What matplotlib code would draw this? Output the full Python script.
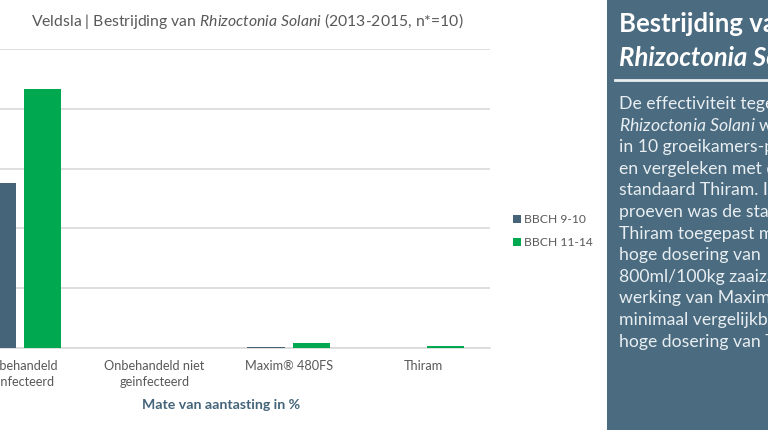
import matplotlib
matplotlib.use('Agg')
import matplotlib.pyplot as plt
from matplotlib.patches import Rectangle
import numpy as np

plt.rcParams['font.family'] = ['Lato', 'DejaVu Sans']
plt.rcParams['mathtext.fontset'] = 'custom'
plt.rcParams['mathtext.rm'] = 'Lato'
plt.rcParams['mathtext.it'] = 'Lato:italic'

# Data (y axis labels are outside the crop, 0-50 assumed)
categories = ['Onbehandeld\ngeinfecteerd', 'Onbehandeld niet\ngeinfecteerd',
              'Maxim® 480FS', 'Thiram']
bbch_9_10 = [27.6, 0.0, 0.2, 0.0]
bbch_11_14 = [43.3, 0.0, 0.8, 0.3]
y_ticks = [0, 10, 20, 30, 40, 50]
series_names = ['BBCH 9-10', 'BBCH 11-14']

panel_head = ['Bestrijding van', 'Rhizoctonia Solani']
panel_body = ['De effectiviteit tegen',
              r'$\mathit{Rhizoctonia\ Solani}$ werd',
              'in 10 groeikamers-proeven',
              'en vergeleken met de',
              'standaard Thiram. In de',
              'proeven was de standaard',
              'Thiram toegepast met een',
              'hoge dosering van',
              '800ml/100kg zaaizaad. De',
              'werking van Maxim was',
              'minimaal vergelijkbaar met de',
              'hoge dosering van Thiram.']

W, H = 768, 432
dark = '#45647a'
green = '#00a84f'
gray = '#595959'
grid = '#d9d9d9'
panel = '#4a6b80'

fig = plt.figure(figsize=(W / 100, H / 100), dpi=100)
ax = fig.add_axes([-47 / W, 1 - 348 / H, 537 / W, 299 / H])

x = np.arange(len(categories))
bw = 0.277
off = bw / 2 + 0.03
ax.bar(x - off, bbch_9_10, bw, color=dark, label=series_names[0], zorder=3)
ax.bar(x + off, bbch_11_14, bw, color=green, label=series_names[1], zorder=3)

ax.set_xlim(-0.5, len(categories) - 0.5)
ax.set_ylim(y_ticks[0], y_ticks[-1])
ax.set_yticks(y_ticks)
ax.yaxis.grid(True, color=grid, linewidth=1.2, zorder=0)
ax.tick_params(axis='y', left=False, labelleft=False)
ax.set_xticks(x)
ax.set_xticklabels(categories, fontsize=9.2, color=gray, linespacing=1.35)
ax.tick_params(axis='x', length=0, pad=9)
for s in ['top', 'right', 'left']:
    ax.spines[s].set_visible(False)
ax.spines['bottom'].set_color(grid)
ax.spines['bottom'].set_linewidth(1.2)
ax.set_xlabel('Mate van aantasting in %', fontsize=10.2, fontweight='bold',
              color='#44647a', labelpad=8)

fig.text(31 / W, 1 - 21 / H,
         r'Veldsla | Bestrijding van $\mathit{Rhizoctonia\ Solani}$ (2013-2015, n*=10)',
         fontsize=11.3, color=gray, va='center', ha='left')

ax.legend(loc='upper left', bbox_to_anchor=(508 / W, 1 - 209 / H),
          bbox_transform=fig.transFigure, frameon=False, fontsize=8.7,
          handlelength=0.65, handleheight=0.65, handletextpad=0.3,
          labelspacing=1.0, labelcolor=gray, borderaxespad=0)

# side panel
fig.patches.append(Rectangle((607 / W, 2 / H), 1 - 607 / W, 1 - 2 / H,
                             transform=fig.transFigure, facecolor=panel,
                             edgecolor='none', zorder=0))
fig.text(619 / W, 1 - 24 / H, panel_head[0], fontsize=18.5, fontweight='bold',
         color='white', va='center', ha='left')
fig.text(619 / W, 1 - 58 / H, panel_head[1], fontsize=18.5, fontweight='bold',
         fontstyle='italic', color='white', va='center', ha='left')
fig.add_artist(plt.Line2D([615 / W, 1], [1 - 80 / H, 1 - 80 / H],
                          transform=fig.transFigure, color='#e8eef1', linewidth=2))
for i, line in enumerate(panel_body):
    fig.text(619 / W, 1 - (104 + 21.6 * i) / H, line, fontsize=12.7,
             color='#e8eef1', va='center', ha='left')

fig.savefig('out.png', dpi=100)
